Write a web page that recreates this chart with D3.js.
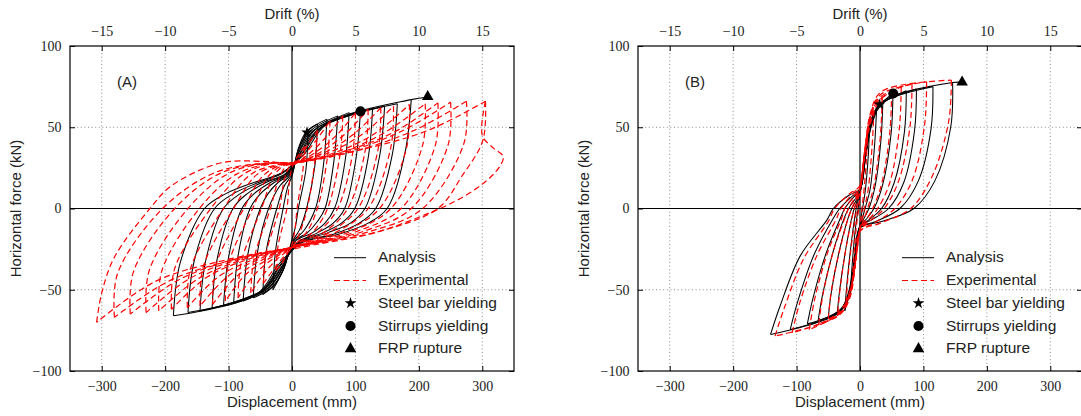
<!DOCTYPE html>
<html><head><meta charset="utf-8">
<script src="https://cdn.jsdelivr.net/npm/d3@7"></script>
<style>body{margin:0;background:#fff} .tk{font-family:"Liberation Serif","DejaVu Serif",serif;font-size:14px}</style>
</head><body><svg id="c" width="1081" height="416"></svg>
<script>
// ---------- axis ticks & labels ----------
const xTicks = [-300, -200, -100, 0, 100, 200, 300];
const yTicks = [-100, -50, 0, 50, 100];
const driftTicks = [-15, -10, -5, 0, 5, 10, 15];
const legendLabels = ["Analysis", "Experimental", "Steel bar yielding", "Stirrups yielding", "FRP rupture"];
const panelLabels = ["(A)", "(B)"];

// ---------- panel A: analysis cycles [displacement mm, force kN] ----------
const analysisA = [
  [[25,47],[22,24],[10,0],[5,-12],[0,-19],[-12,-36],[-30,-50],[-26,-26],[-14,0],[-7,13],[0,20],[10,36],[25,47]],
  [[40,52],[36,26],[23,0],[12,-13],[1,-20],[-14,-38],[-28,-47],[-46,-53],[-41,-27],[-24,0],[-12,14],[0,21],[10,37],[22,47],[40,52]],
  [[55,55],[50,28],[37,0],[18,-14],[2,-20],[-14,-38],[-30,-48],[-61,-55],[-55,-28],[-37,0],[-19,14],[-2,21],[11,37],[26,48],[55,55]],
  [[72,57],[66,29],[52,0],[40,-8],[24,-15],[4,-20],[-15,-37],[-34,-48],[-77,-57],[-70,-29],[-50,0],[-38,9],[-22,16],[-4,21],[12,36],[30,48],[72,57]],
  [[90,59],[84,30],[67,0],[52,-9],[32,-15],[6,-20],[-16,-37],[-38,-49],[-92,-58.5],[-85,-29],[-66,0],[-50,9],[-28,16],[-6,21],[13,36],[34,48],[90,59]],
  [[108,60],[101,31],[83,0],[65,-9],[40,-15],[8,-21],[-16,-36],[-41,-49],[-108,-60],[-100,-30],[-79,0],[-60,9],[-34,16],[-8,21],[14,35],[38,49],[108,60]],
  [[127,61.5],[120,31],[99,0],[78,-9],[48,-15],[10,-21],[-17,-36],[-45,-50],[-126,-61.5],[-118,-31],[-93,0],[-71,9],[-41,16],[-10,21],[15,35],[42,49],[127,61.5]],
  [[146,63],[138,32],[115,0],[92,-9],[56,-15],[12,-21],[-18,-35],[-48,-51],[-145,-63],[-136,-32],[-108,0],[-82,9],[-47,16],[-12,21],[16,34],[46,50],[146,63]],
  [[166,64.5],[158,33],[132,0],[106,-9],[64,-16],[14,-21],[-19,-35],[-52,-52],[-164,-64],[-154,-32],[-122,0],[-93,9],[-53,16],[-14,22],[17,34],[50,51],[166,64.5]],
  [[188,67],[178,34],[150,0],[120,-9],[72,-16],[16,-21],[-20,-34],[-56,-53],[-187,-66],[-176,-33],[-138,0],[-105,9],[-60,16],[-16,22],[18,33],[55,52],[188,67],[213,68.5]]
];

// ---------- panel A: experimental cycles ----------
const experimentalA = [
  [[20,38],[17,23],[8,0],[5,-12],[2,-19],[0,-22],[-9,-29],[-18,-35],[-25,-38],[-22,-23],[-8,0],[-5,13],[-2,22],[0,25],[7,31],[14,35],[20,38]],
  [[40,48],[36,29],[24,0],[14,-13],[5,-21],[0,-24],[-16,-31],[-32,-39],[-45,-46],[-41,-28],[-20,0],[-12,18],[-4,26],[0,27],[14,33],[28,41],[40,48]],
  [[60,54],[56,32],[40,0],[24,-14],[8,-21],[0,-24],[-23,-31],[-46,-41],[-65,-52],[-60,-31],[-34,0],[-20,19],[-7,27],[0,27],[21,34],[42,44],[60,54]],
  [[80,57],[76,34],[56,0],[34,-14],[11,-21],[0,-24],[-30,-31],[-60,-41],[-85,-55],[-80,-33],[-48,0],[-29,20],[-10,27],[0,27],[28,34],[56,45],[80,57]],
  [[100,59],[96,35],[72,0],[43,-14],[14,-21],[0,-24],[-37,-31],[-74,-41],[-105,-57],[-100,-34],[-62,0],[-37,20],[-12,27],[0,27],[35,34],[70,45],[100,59]],
  [[120,61],[116,37],[88,0],[53,-14],[18,-21],[0,-24],[-44,-31],[-88,-42],[-125,-59],[-120,-35],[-76,0],[-46,20],[-15,27],[0,27],[42,34],[84,46],[120,61]],
  [[140,62],[136,37],[104,0],[62,-14],[21,-21],[0,-24],[-51,-31],[-102,-42],[-145,-60],[-140,-36],[-92,0],[-55,21],[-18,27],[0,28],[49,34],[98,46],[140,62]],
  [[160,63],[156,38],[120,0],[72,-14],[24,-21],[0,-24],[-58,-31],[-116,-42],[-165,-61],[-160,-37],[-108,0],[-65,21],[-22,27],[0,28],[56,34],[112,46],[160,63]],
  [[185,64],[181,38],[138,0],[83,-14],[28,-21],[0,-24],[-67,-31],[-133,-42],[-190,-62],[-185,-37],[-128,0],[-77,21],[-26,28],[0,28],[65,34],[130,46],[185,64]],
  [[210,64.5],[206,39],[156,0],[94,-14],[31,-21],[0,-24],[-74,-31],[-147,-43],[-210,-63],[-205,-38],[-146,0],[-88,21],[-29,28],[0,28],[74,34],[147,47],[210,64.5]],
  [[230,65],[226,39],[172,0],[103,-14],[34,-21],[0,-24],[-81,-31],[-161,-43],[-230,-64],[-225,-38],[-164,0],[-98,22],[-33,28],[0,28],[81,35],[161,47],[230,65]],
  [[250,65.5],[246,39],[188,0],[113,-14],[38,-21],[0,-24],[-89,-31],[-179,-44],[-255,-65],[-250,-39],[-185,0],[-111,22],[-37,28],[0,28],[88,35],[175,48],[250,65.5]],
  [[275,66],[271,40],[206,0],[124,-14],[41,-21],[0,-24],[-98,-32],[-196,-45],[-280,-67],[-275,-40],[-204,0],[-122,22],[-41,28],[0,28],[96,35],[192,48],[275,66]],
  [[305,66],[301,42],[268,20],[230,0],[138,-14],[46,-21],[0,-24],[-108,-32],[-216,-45],[-308,-70],[-300,-52],[-280,-30],[-224,0],[-190,14],[-113,28],[-45,29],[0,28],[107,36],[214,48],[305,66]]
];
const experimentalAFailure = [[305,66],[300,45],[318,37],[333,32],[326,25],[300,15],[260,5],[215,-3],[130,-15],[40,-22],[0,-25]];

// ---------- panel B: analysis cycles ----------
const analysisB = [
  [[15,50],[13,32],[8,10],[4,0],[1,-7],[-1,-12],[-7,-30],[-11,-42],[-15,-50],[-13,-38],[-8,-15],[-3,0],[0,8],[4,22],[9,36],[15,50]],
  [[26,60],[23,39],[16,12],[8,0],[3,-7],[0,-11],[-8,-30],[-15,-48],[-24,-63],[-21,-48],[-14,-22],[-6,0],[0,10],[8,30],[16,48],[26,60]],
  [[36,65],[33,42],[24,14],[14,0],[5,-7],[0,-11],[-8,-30],[-17,-50],[-25,-59],[-36,-65],[-32,-50],[-22,-24],[-12,-4],[-9,0],[0,10],[8,30],[17,50],[25,59],[36,65]],
  [[52,71],[49,46],[36,15],[22,0],[9,-7],[0,-11],[-8,-30],[-17,-52],[-28,-61],[-50,-67],[-45,-51],[-32,-25],[-18,-5],[-13,0],[0,10],[8,30],[17,52],[28,62],[52,71]],
  [[73,72.5],[70,47],[54,16],[34,0],[14,-7],[0,-11],[-8,-30],[-17,-52],[-30,-62],[-66,-69],[-59,-53],[-42,-26],[-24,-5],[-18,0],[0,11],[8,30],[17,52],[30,63],[73,72.5]],
  [[89,73.5],[86,48],[69,16],[45,0],[18,-7],[0,-11],[-8,-30],[-17,-52],[-32,-63],[-83,-71],[-74,-55],[-53,-27],[-31,-6],[-24,0],[-10,7],[0,11],[8,30],[17,52],[32,64],[89,73.5]],
  [[115,75],[112,49],[92,17],[63,0],[25,-8],[0,-12],[-8,-30],[-17,-53],[-34,-64],[-110,-74.5],[-98,-57],[-72,-28],[-42,-6],[-32,0],[-14,7],[0,12],[8,30],[17,53],[34,65],[115,75]],
  [[146,77.5],[143,50],[118,17],[85,0],[34,-8],[0,-12],[-8,-30],[-17,-54],[-36,-65],[-141,-77.5],[-126,-60],[-94,-29],[-52,-7],[-42,0],[-18,8],[0,12],[8,30],[17,54],[36,66],[146,77.5],[161,77.7]]
];

// ---------- panel B: experimental cycles ----------
const experimentalB = [
  [[12,48],[10,30],[6,10],[3,0],[1,-8],[-1,-14],[-6,-30],[-9,-40],[-12,-45],[-10,-32],[-6,-12],[-2,0],[1,10],[4,25],[8,38],[12,48]],
  [[22,60],[19,38],[13,12],[7,0],[3,-8],[0,-13],[-7,-32],[-14,-48],[-22,-58],[-19,-42],[-12,-18],[-5,0],[0,12],[7,32],[14,48],[22,60]],
  [[35,68],[32,44],[22,14],[12,0],[5,-8],[0,-13],[-7,-32],[-15,-50],[-24,-59],[-35,-64],[-31,-48],[-21,-22],[-11,-3],[-9,0],[0,13],[7,32],[15,52],[24,62],[35,68]],
  [[50,72],[47,47],[34,15],[20,0],[8,-8],[0,-13],[-7,-32],[-15,-52],[-26,-62],[-50,-68],[-45,-50],[-31,-24],[-17,-4],[-13,0],[0,13],[7,32],[15,54],[26,65],[50,72]],
  [[65,75],[62,49],[47,16],[28,0],[11,-8],[0,-13],[-7,-32],[-16,-53],[-28,-63],[-65,-71],[-58,-52],[-41,-25],[-23,-5],[-18,0],[-6,8],[0,13],[7,32],[16,55],[28,66],[65,75]],
  [[82,77],[79,51],[61,17],[38,0],[15,-8],[0,-14],[-7,-32],[-16,-53],[-30,-64],[-80,-74.5],[-71,-55],[-51,-27],[-29,-6],[-24,0],[-9,8],[0,14],[7,32],[16,56],[30,68],[82,77]],
  [[105,78],[102,52],[83,18],[55,0],[22,-9],[0,-14],[-7,-32],[-16,-54],[-32,-65],[-107,-76.5],[-95,-58],[-68,-29],[-38,-7],[-30,0],[-12,9],[0,14],[7,32],[16,57],[32,70],[105,78]],
  [[144,79],[140,54],[114,20],[80,0],[32,-9],[0,-14],[-7,-32],[-16,-55],[-34,-66],[-134,-78.5],[-120,-62],[-89,-31],[-50,-8],[-40,0],[-17,9],[0,14],[7,32],[16,58],[34,72],[144,79]]
];

// ---------- event markers [displacement, force] ----------
const steelYieldA = [23.6, 46.8];
const stirrupYieldA = [108, 59.8];
const frpRuptureA = [214, 68.8];
const steelYieldB = [31, 64];
const stirrupYieldB = [52.5, 70.8];
const frpRuptureB = [161, 77.8];

// ---------- drawing ----------
const svg = d3.select("#c");
svg.append("rect").attr("width",1081).attr("height",416).attr("fill","#fff");
const panelW = 444, yTop = 46, yBot = 371;
const panels = [
  {left:70, label:panelLabels[0], an:analysisA, ex:experimentalA, extra:[experimentalAFailure],
   mk:[steelYieldA, stirrupYieldA, frpRuptureA]},
  {left:638, label:panelLabels[1], an:analysisB, ex:experimentalB, extra:[],
   mk:[steelYieldB, stirrupYieldB, frpRuptureB]}
];
const fmt = d => d < 0 ? "\u2212" + Math.abs(d) : String(d);
const sans = "'Liberation Sans', Arial, Helvetica, sans-serif";

const starSym = d3.symbol().type(d3.symbolStar).size(42);
const circSym = d3.symbol().type(d3.symbolCircle).size(80);
const triSym = d3.symbol().type(d3.symbolTriangle).size(58);
const symbols = [starSym, circSym, triSym];

panels.forEach((p, pi) => {
  const right = p.left + panelW;
  const x = d3.scaleLinear().domain([-350, 350]).range([p.left, right]);
  const y = d3.scaleLinear().domain([-100, 100]).range([yBot, yTop]);
  const xd = d3.scaleLinear().domain([-17.5, 17.5]).range([p.left, right]);
  const g = svg.append("g");
  const clipId = "clip" + pi;
  g.append("clipPath").attr("id", clipId).append("rect")
    .attr("x", p.left).attr("y", yTop).attr("width", panelW).attr("height", yBot - yTop);

  // grid
  const grid = g.append("g").attr("stroke", "#8a8a8a").attr("stroke-width", 1).attr("stroke-dasharray", "1,2.6");
  xTicks.filter(t => t !== 0).forEach(t => grid.append("line").attr("x1", x(t)).attr("x2", x(t)).attr("y1", yTop).attr("y2", yBot));
  yTicks.filter(t => t !== 0 && Math.abs(t) !== 100).forEach(t => grid.append("line").attr("x1", p.left).attr("x2", right).attr("y1", y(t)).attr("y2", y(t)));
  // zero lines
  g.append("line").attr("x1", x(0)).attr("x2", x(0)).attr("y1", yTop).attr("y2", yBot).attr("stroke", "#000").attr("stroke-width", 1.2);
  g.append("line").attr("x1", p.left).attr("x2", right).attr("y1", y(0)).attr("y2", y(0)).attr("stroke", "#000").attr("stroke-width", 1.2);

  const line = d3.line().x(d => x(d[0])).y(d => y(d[1])).curve(d3.curveCatmullRom.alpha(0.5));
  const branches = cyc => {
    let k = 0;
    cyc.forEach((d, i) => { if (d[1] < cyc[k][1]) k = i; });
    return [cyc.slice(0, k + 1), cyc.slice(k)];
  };
  const data = g.append("g").attr("clip-path", `url(#${clipId})`);
  const an = data.append("g").attr("fill", "none").attr("stroke", "#000").attr("stroke-width", 1.05);
  p.an.forEach(c => branches(c).forEach(b => an.append("path").attr("d", line(b))));
  const ex = data.append("g").attr("fill", "none").attr("stroke", "#ff0000").attr("stroke-width", 1.2).attr("stroke-dasharray", "6,3.5");
  p.ex.forEach(c => branches(c).forEach(b => ex.append("path").attr("d", line(b))));
  p.extra.forEach(b => ex.append("path").attr("d", line(b)));

  // markers
  p.mk.forEach((m, i) => g.append("path").attr("d", symbols[i]())
    .attr("transform", `translate(${x(m[0])},${y(m[1])})`).attr("fill", "#000"));

  // frame
  g.append("rect").attr("x", p.left).attr("y", yTop).attr("width", panelW).attr("height", yBot - yTop)
    .attr("fill", "none").attr("stroke", "#000").attr("stroke-width", 1.2);

  // axes
  const styleAxis = a => {
    a.attr("font-family", null).attr("font-size", null);
    a.select(".domain").remove();
    a.selectAll("line").attr("stroke", "#000");
    a.selectAll("text").attr("fill", "#222").attr("class", "tk");
  };
  g.append("g").attr("transform", `translate(0,${yBot})`)
    .call(d3.axisBottom(x).tickValues(xTicks).tickSize(-5).tickPadding(9.6).tickFormat(fmt)).call(styleAxis);
  g.append("g").attr("transform", `translate(0,${yTop})`)
    .call(d3.axisTop(xd).tickValues(driftTicks).tickSize(-5).tickPadding(10).tickFormat(fmt)).call(styleAxis);
  g.append("g").attr("transform", `translate(${p.left},0)`)
    .call(d3.axisLeft(y).tickValues(yTicks).tickSize(-5).tickPadding(8.6).tickFormat(fmt)).call(styleAxis);
  g.append("g").attr("transform", `translate(${right},0)`)
    .call(d3.axisRight(y).tickValues(yTicks).tickSize(-5).tickFormat("")).call(styleAxis);

  // titles
  const cx = (p.left + right) / 2;
  const txt = (sel) => sel.style("font-family", sans).style("font-size", "15px").attr("fill", "#222");
  g.append("text").attr("x", cx).attr("y", 19).attr("text-anchor", "middle").call(txt).text("Drift (%)");
  g.append("text").attr("x", cx).attr("y", 407).attr("text-anchor", "middle").call(txt).text("Displacement (mm)");
  g.append("text").attr("transform", `translate(${p.left - 49.5},${(yTop + yBot) / 2}) rotate(-90)`)
    .attr("text-anchor", "middle").call(txt).text("Horizontal force (kN)");
  g.append("text").attr("x", p.left + 57).attr("y", 86.5).attr("text-anchor", "middle").call(txt).text(p.label);

  // legend
  const lx = p.left + 264, rows = [257.7, 280.5, 303.2, 326, 348.8];
  const lg = g.append("g");
  lg.append("line").attr("x1", lx).attr("x2", lx + 32).attr("y1", rows[0]).attr("y2", rows[0]).attr("stroke", "#000").attr("stroke-width", 1);
  lg.append("line").attr("x1", lx).attr("x2", lx + 32).attr("y1", rows[1]).attr("y2", rows[1]).attr("stroke", "#ff0000").attr("stroke-width", 1.2).attr("stroke-dasharray", "6,3.5");
  symbols.forEach((s, i) => lg.append("path").attr("d", s()).attr("transform", `translate(${lx + 16.5},${rows[i + 2]})`).attr("fill", "#000"));
  legendLabels.forEach((t, i) => lg.append("text").attr("x", lx + 44).attr("y", rows[i] + 4.6)
    .style("font-family", sans).style("font-size", "15.5px").attr("fill", "#222").text(t));
});
</script></body></html>
